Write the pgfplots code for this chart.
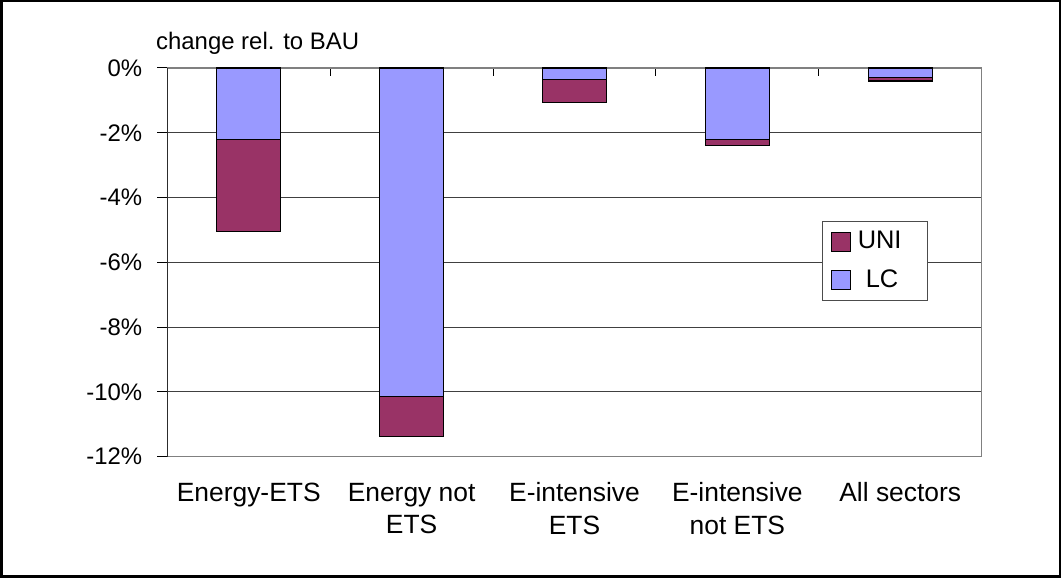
\documentclass[border=0pt]{standalone}
\usepackage{pgfplots}
\pgfplotsset{compat=1.18}
\usepackage{fontspec}
\setmainfont{Liberation Sans}
\definecolor{lc}{HTML}{9999FF}
\definecolor{uni}{HTML}{993366}
\begin{document}
\fontsize{24}{33}\selectfont
\begin{tikzpicture}
\useasboundingbox (0,0) rectangle (1061bp,578bp);
\draw[line width=2bp] (1.5bp,1.5bp) rectangle (1059.5bp,576.5bp);
\begin{axis}[
  at={(167.3bp,121.3bp)}, anchor=south west,
  scale only axis, width=814.4bp, height=388.7bp,
  ybar stacked, bar width=64bp,
  xmin=-0.5, xmax=4.5, ymin=-12, ymax=0,
  xtick={0,1,2,3,4},
  xticklabels={Energy-ETS, Energy not\\ETS, E-intensive\\ETS, E-intensive\\not ETS, All sectors},
  xticklabel style={align=center, yshift=-18bp, font=\fontsize{26.5}{33}\selectfont},
  minor xtick={-0.5,0.5,1.5,2.5,3.5,4.5},
  xtick pos=right, xticklabel pos=left,
  every major x tick/.style={draw=none},
  xtick align=inside, ytick align=outside,
  ytick={-12,-10,-8,-6,-4,-2,0},
  yticklabels={-12\%,-10\%,-8\%,-6\%,-4\%,-2\%,0\%},
  ytick pos=left,
  yticklabel style={xshift=-7bp},
  major tick length=10bp, minor tick length=8.5bp,
  tick style={black, line width=1bp},
  ymajorgrids, major grid style={black!75, line width=0.9bp},
  axis line style={gray, line width=1.3bp},
  legend image code/.code={\draw[#1] (0bp,-9.5bp) rectangle (19bp,9.5bp);},
  reverse legend,
  legend cell align=left,
  legend style={at={(0.804,0.607)}, anchor=north west, draw=black!70, line width=1bp, fill=white,
    font=\fontsize{25.5}{30}\selectfont, row sep=13bp, inner xsep=8bp, inner ysep=8bp},
]
\addplot[fill=lc, draw=black, line width=1.2bp] coordinates {(0,-2.2) (1,-10.15) (2,-0.35) (3,-2.2) (4,-0.3)};
\addplot[fill=uni, draw=black, line width=1.2bp] coordinates {(0,-2.85) (1,-1.23) (2,-0.72) (3,-0.2) (4,-0.1)};
\legend{\hspace*{13bp}LC, \hspace*{5bp}UNI\hspace*{16bp}}
\draw[black, line width=1.2bp] (rel axis cs:0,0) -- (rel axis cs:0,1);
\end{axis}
\node[anchor=base west, inner sep=0pt] at (156bp,528bp) {change rel. to BAU};
\end{tikzpicture}
\end{document}
